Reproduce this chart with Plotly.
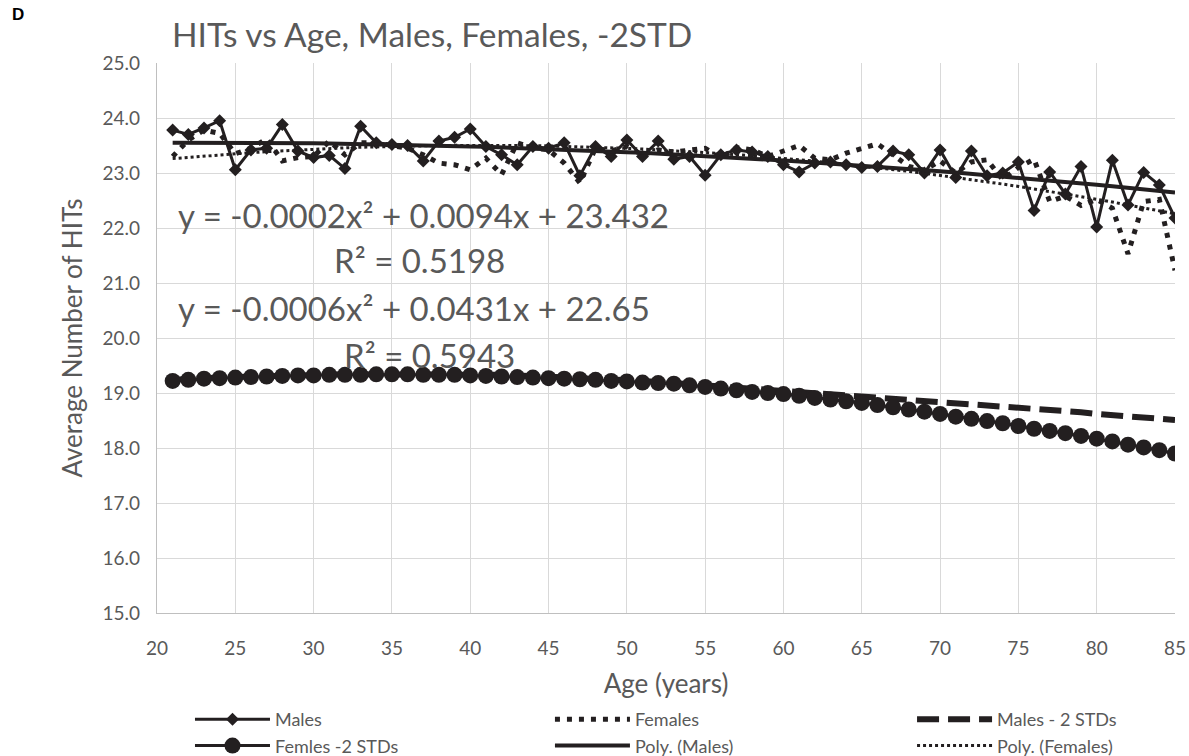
import numpy as np
import plotly.graph_objects as go

ages = list(range(21, 86))

males = [23.78, 23.70, 23.82, 23.95, 23.06, 23.42, 23.45, 23.88, 23.40, 23.28,
         23.32, 23.08, 23.85, 23.55, 23.52, 23.50, 23.22, 23.58, 23.65, 23.80,
         23.48, 23.33, 23.15, 23.48, 23.45, 23.55, 22.95, 23.48, 23.30, 23.60,
         23.30, 23.58, 23.25, 23.30, 22.96, 23.33, 23.42, 23.38, 23.30, 23.15,
         23.02, 23.18, 23.20, 23.15, 23.10, 23.12, 23.40, 23.33, 23.00, 23.42,
         22.92, 23.40, 22.95, 23.00, 23.20, 22.32, 23.02, 22.62, 23.12, 22.02,
         23.23, 22.42, 23.01, 22.78, 22.18]

females = [23.30, 23.60, 23.78, 23.72, 23.35, 23.45, 23.62, 23.22, 23.28, 23.30,
           23.58, 23.33, 23.55, 23.55, 23.50, 23.45, 23.33, 23.18, 23.15, 23.06,
           23.27, 22.97, 23.55, 23.45, 23.42, 23.18, 22.82, 23.45, 23.40, 23.48,
           23.33, 23.42, 23.38, 23.42, 23.45, 23.27, 23.46, 23.42, 23.30, 23.40,
           23.50, 23.27, 23.24, 23.36, 23.45, 23.53, 23.33, 23.12, 23.05, 23.22,
           23.00, 23.20, 23.24, 22.88, 23.10, 23.25, 22.48, 22.58, 22.41, 22.52,
           22.36, 21.53, 22.48, 22.52, 21.23]

males_2std = [19.24, 19.26, 19.27, 19.28, 19.29, 19.30, 19.31, 19.32, 19.32, 19.33,
              19.33, 19.34, 19.34, 19.34, 19.35, 19.35, 19.35, 19.35, 19.34, 19.34,
              19.33, 19.33, 19.32, 19.31, 19.30, 19.29, 19.28, 19.27, 19.25, 19.24,
              19.22, 19.20, 19.18, 19.16, 19.14, 19.12, 19.10, 19.08, 19.06, 19.05,
              19.03, 19.01, 18.99, 18.97, 18.95, 18.93, 18.91, 18.89, 18.86, 18.84,
              18.82, 18.80, 18.78, 18.76, 18.73, 18.71, 18.69, 18.67, 18.65, 18.62,
              18.60, 18.58, 18.56, 18.53, 18.51]

females_2std = [19.22, 19.24, 19.26, 19.27, 19.28, 19.29, 19.30, 19.31, 19.32, 19.32,
                19.33, 19.33, 19.33, 19.34, 19.34, 19.34, 19.33, 19.33, 19.33, 19.32,
                19.31, 19.30, 19.29, 19.28, 19.27, 19.26, 19.25, 19.24, 19.22, 19.21,
                19.19, 19.18, 19.17, 19.14, 19.11, 19.08, 19.05, 19.02, 19.00, 18.98,
                18.95, 18.91, 18.88, 18.85, 18.82, 18.78, 18.74, 18.70, 18.66, 18.62,
                18.57, 18.53, 18.49, 18.45, 18.40, 18.35, 18.31, 18.27, 18.22, 18.17,
                18.12, 18.06, 18.01, 17.96, 17.90]

eq_text = ["y = -0.0002x² + 0.0094x + 23.432", "R² = 0.5198",
           "y = -0.0006x² + 0.0431x + 22.65", "R² = 0.5943"]
title_text = "HITs vs Age, Males, Females, -2STD"

INK = "#231F20"
GREY = "#595959"
FONT = "Lato"

a = np.array(ages, dtype=float)
pm = np.polyval(np.polyfit(a, males, 2), a)
pf = np.polyval(np.polyfit(a, females, 2), a)

fig = go.Figure()
fig.add_trace(go.Scatter(x=ages, y=males, name="Males", mode="lines+markers",
                         legend="legend", legendrank=1,
                         line=dict(color=INK, width=3),
                         marker=dict(symbol="diamond", size=10, color=INK)))
fig.add_trace(go.Scatter(x=ages, y=females, name="Females", mode="lines",
                         legend="legend2", legendrank=1,
                         line=dict(color=INK, width=5, dash="5px,7px")))
fig.add_trace(go.Scatter(x=ages, y=males_2std, name="Males - 2 STDs", mode="lines",
                         legend="legend3", legendrank=1,
                         line=dict(color=INK, width=6, dash="22px,9px")))
fig.add_trace(go.Scatter(x=ages, y=females_2std, name="Femles -2 STDs", mode="lines+markers",
                         legend="legend", legendrank=2,
                         line=dict(color=INK, width=3),
                         marker=dict(symbol="circle", size=16, color=INK)))
fig.add_trace(go.Scatter(x=ages, y=pm, name="Poly. (Males)", mode="lines",
                         legend="legend2", legendrank=2,
                         line=dict(color=INK, width=4)))
fig.add_trace(go.Scatter(x=ages, y=pf, name="Poly. (Females)", mode="lines",
                         legend="legend3", legendrank=2,
                         line=dict(color=INK, width=3, dash="3px,3px")))

ann = []
pos = [(0.2613, 0.7236), (0.2574, 0.6418), (0.2525, 0.5545), (0.2672, 0.469)]
for t, (x, y) in zip(eq_text, pos):
    ann.append(dict(text=t, x=x, y=y, xref="paper", yref="paper", showarrow=False,
                    xanchor="center", yanchor="middle",
                    font=dict(family=FONT, size=33, color=GREY)))
ann.append(dict(text="<b>D</b>", x=-0.1365, y=1.089, xref="paper", yref="paper",
                showarrow=False, xanchor="center", yanchor="middle",
                font=dict(family="Liberation Sans", size=17, color="black")))


def leg(x):
    return dict(orientation="v", x=x, xanchor="left", y=-0.16, yanchor="top",
                itemwidth=75, font=dict(family=FONT, size=18, color=GREY),
                bgcolor="rgba(0,0,0,0)", traceorder="normal")


fig.update_layout(
    width=1189, height=756, autosize=False,
    margin=dict(l=157, r=14, t=63, b=143, autoexpand=False),
    paper_bgcolor="white", plot_bgcolor="white",
    font=dict(family=FONT, color=GREY),
    title=dict(text=title_text, xref="container", yref="container",
               x=172 / 1189, xanchor="left", y=1 - 35 / 756, yanchor="middle",
               font=dict(family=FONT, size=33.5, color=GREY)),
    showlegend=True,
    legend=leg(0.0324),
    legend2=leg(0.386),
    legend3=leg(0.7417),
    annotations=ann,
)
fig.update_xaxes(range=[20, 85], tick0=20, dtick=5, showgrid=True,
                 gridcolor="#D9D9D9", gridwidth=1.3, showline=True,
                 linecolor="#BFBFBF", linewidth=1.3, zeroline=False,
                 ticklabelstandoff=18,
                 tickfont=dict(family=FONT, size=19, color=GREY),
                 title=dict(text="Age (years)", font=dict(family=FONT, size=26, color=GREY),
                            standoff=16))
fig.update_yaxes(range=[15, 25], tick0=15, dtick=1, tickformat=".1f", showgrid=True,
                 gridcolor="#D9D9D9", gridwidth=1.3, showline=True,
                 linecolor="#BFBFBF", linewidth=1.3, zeroline=False,
                 ticklabelstandoff=12,
                 tickfont=dict(family=FONT, size=19, color=GREY),
                 title=dict(text="Average Number of HITs",
                            font=dict(family=FONT, size=26, color=GREY), standoff=12))

fig.write_html("out.html")
